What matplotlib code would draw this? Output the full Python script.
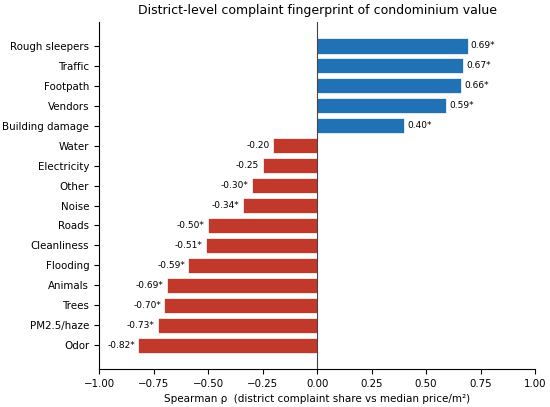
import numpy as np
import matplotlib.pyplot as plt

categories = ["Rough sleepers", "Traffic", "Footpath", "Vendors", "Building damage",
              "Water", "Electricity", "Other", "Noise", "Roads", "Cleanliness",
              "Flooding", "Animals", "Trees", "PM2.5/haze", "Odor"]
rho = [0.69, 0.67, 0.66, 0.59, 0.40, -0.20, -0.25, -0.30, -0.34, -0.50, -0.51,
       -0.59, -0.69, -0.70, -0.73, -0.82]
signif = [True, True, True, True, True, False, False, True, True, True, True,
          True, True, True, True, True]

fig, ax = plt.subplots(figsize=(5.5, 4.07), dpi=100)
y = np.arange(len(categories))
colors = ["#2171b5" if v > 0 else "#c0392b" for v in rho]
ax.barh(y, rho, height=0.76, color=colors, edgecolor="white", linewidth=0.5)
ax.axvline(0, color="#444444", linewidth=0.8)

for yi, v, s in zip(y, rho, signif):
    lab = f"{v:.2f}" + ("*" if s else "")
    if v > 0:
        ax.text(v + 0.015, yi, lab, va="center", ha="left", fontsize=6.5)
    else:
        ax.text(v - 0.015, yi, lab, va="center", ha="right", fontsize=6.5)

ax.set_yticks(y)
ax.set_yticklabels(categories, fontsize=7.4)
ax.set_ylim(len(categories) - 1 + 1.2, -1.2)
ax.set_xlim(-1, 1)
ax.tick_params(axis="x", labelsize=7.4)
ax.set_xlabel("Spearman ρ  (district complaint share vs median price/m²)", fontsize=7.5)
ax.set_title("District-level complaint fingerprint of condominium value", fontsize=9)
ax.spines["top"].set_visible(False)
ax.spines["right"].set_visible(False)

fig.subplots_adjust(left=0.18, right=0.973, top=0.946, bottom=0.093)
fig.savefig("out.png")
